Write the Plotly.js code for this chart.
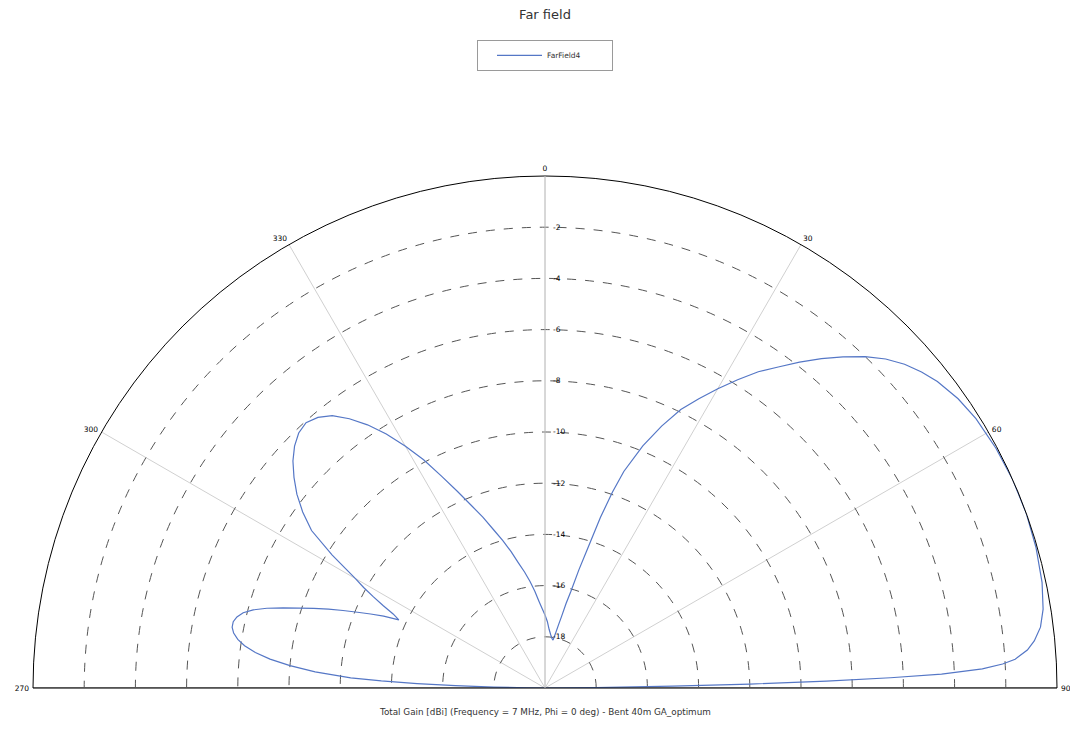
<!DOCTYPE html>
<html>
<head>
<meta charset="utf-8">
<script src="https://cdn.plot.ly/plotly-3.0.1.min.js"></script>
<style>html,body{margin:0;padding:0;background:#fff;}#chart{width:1070px;height:740px;}</style>
</head>
<body>
<div id="chart"></div>
<script>
// Elevation angle theta (deg, 0 = zenith, clockwise) and total gain (dBi)
var thetaDeg = [-90,-89.5,-89,-88.5,-88,-87.5,-87,-86,-85,-84,-83,-82,-81,-80,-79,-78,-77,-76,-75,-74,-73,-72,-71,-70,-69,-68,-67,-66,-65,-64,-63,-62,-61,-60,-58,-56,-54,-52,-50,-48,-46,-44,-42,-40,-38,-36,-34,-32,-30,-28,-26,-24,-22,-20,-18,-16,-14,-12,-10,-8,-6,-4,-2,0,2,4,6,8,9.5,11,12,13,14,15,16,17,18,19,20,22,24,26,28,30,32,34,36,38,40,42,44,46,48,50,52,55,58,62,66,70,74,78,81,83,84.5,85.5,86.5,87,87.5,88,88.3,88.6,88.9,89.2,89.5,90];
var gainDbi = [-20,-19.3,-18.0,-16.5,-15.0,-13.6,-12.4,-11.0,-10.0,-9.2,-8.6,-8.15,-7.85,-7.65,-7.55,-7.55,-7.65,-7.85,-8.2,-8.7,-9.3,-9.9,-10.45,-11.0,-11.55,-12.1,-12.6,-13.1,-13.7,-13.4,-12.9,-12.4,-11.9,-11.45,-10.2,-9.0,-8.3,-7.7,-7.2,-6.75,-6.4,-6.15,-6.05,-6.2,-6.5,-7.0,-7.6,-8.3,-9.1,-9.9,-10.8,-11.6,-12.3,-12.9,-13.5,-14.0,-14.5,-15.0,-15.4,-15.8,-16.2,-16.6,-16.9,-17.15,-17.4,-17.7,-17.9,-18.05,-18.1,-17.8,-17.5,-17.15,-16.6,-16.1,-15.2,-14.3,-13.0,-11.9,-11.0,-9.8,-8.8,-7.9,-7.2,-6.5,-5.8,-5.1,-4.5,-3.85,-3.2,-2.6,-2.0,-1.5,-1.1,-0.8,-0.55,-0.3,-0.15,-0.05,0,0,-0.05,-0.15,-0.3,-0.5,-0.8,-1.1,-1.6,-2.1,-2.9,-4.5,-6.5,-9.0,-12.0,-15.0,-18.0,-20];

var angTickVals = [-90,-60,-30,0,30,60,90];
var angTickText = ['270','300','330','0','30','60','90'];
var radTickVals = [-18,-16,-14,-12,-10,-8,-6,-4,-2];
var radTickText = ['-18','-16','-14','-12','-10','-8','-6','-4','-2'];
var radialRange = [-20, 0];
var baseTheta = [-90, 90];
var baseR = [0, 0];

var FONT = 'DejaVu Sans, Verdana, sans-serif';
var CX = 545 / 1070;

var traces = [
  {
    type: 'scatterpolar', mode: 'lines',
    r: baseR, theta: baseTheta,
    line: {color: '#a8a8a8', width: 2},
    showlegend: false, hoverinfo: 'skip'
  },
  {
    type: 'scatterpolar', mode: 'lines', name: 'FarField4',
    r: gainDbi, theta: thetaDeg,
    line: {color: '#5577c6', width: 1.2}
  }
];

var layout = {
  width: 1070, height: 740,
  paper_bgcolor: '#ffffff',
  margin: {l: 0, r: 0, t: 0, b: 0},
  font: {family: FONT, size: 8, color: '#000'},
  title: {text: 'Far field', x: CX, xanchor: 'center', y: 0.981, yanchor: 'middle',
          font: {family: FONT, size: 13, color: '#333'}},
  showlegend: true,
  legend: {
    x: CX, xanchor: 'center', y: 0.946, yanchor: 'top',
    orientation: 'h', bgcolor: '#fff', bordercolor: '#9a9a9a', borderwidth: 1,
    font: {family: FONT, size: 7.5, color: '#333'},
    itemwidth: 45, entrywidth: 60, indentation: 14
  },
  polar: {
    domain: {x: [33/1070, 1057/1070], y: [52/740, 564/740]},
    sector: [0, 180],
    bgcolor: '#ffffff',
    angularaxis: {
      direction: 'clockwise', rotation: 90, thetaunit: 'degrees',
      tickmode: 'array', tickvals: angTickVals, ticktext: angTickText,
      showline: true, linecolor: '#000', linewidth: 1,
      showgrid: true, gridcolor: '#d0d0d0', gridwidth: 1,
      ticks: 'outside', ticklen: 2, tickcolor: 'rgba(0,0,0,0)',
      tickfont: {family: FONT, size: 7.5, color: '#000'}
    },
    radialaxis: {
      range: radialRange, angle: 90, tickangle: 90,
      tickmode: 'array', tickvals: radTickVals, ticktext: radTickText,
      showline: true, linecolor: '#c8c8c8', linewidth: 1,
      showgrid: true, gridcolor: '#555', gridwidth: 1, griddash: 'dash',
      ticks: 'outside', ticklen: 6, tickcolor: 'rgba(0,0,0,0)',
      tickfont: {family: FONT, size: 7.5, color: '#000'}
    }
  },
  annotations: [{
    text: 'Total Gain [dBi] (Frequency = 7 MHz, Phi = 0 deg) - Bent 40m GA_optimum',
    xref: 'paper', yref: 'paper', x: CX, y: 1 - 712/740, xanchor: 'center', yanchor: 'middle',
    showarrow: false, font: {family: FONT, size: 8.8, color: '#333'}
  }]
};

Plotly.newPlot('chart', traces, layout, {displayModeBar: false, staticPlot: true});
</script>
</body>
</html>
